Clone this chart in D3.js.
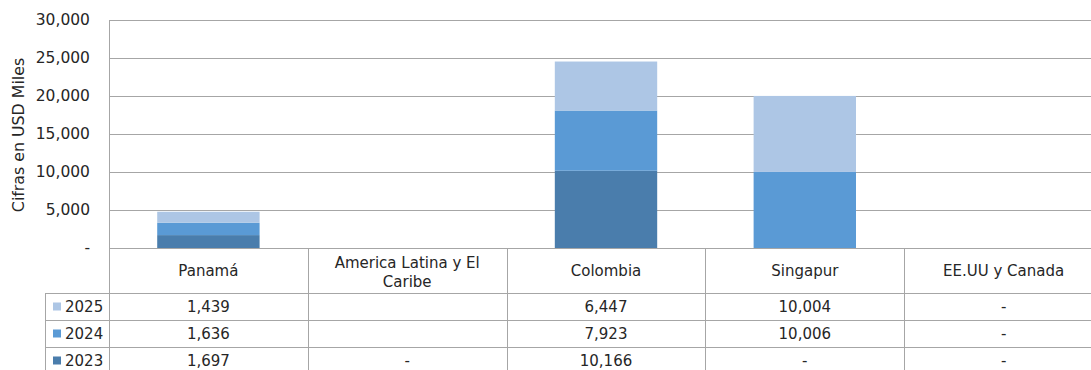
<!DOCTYPE html>
<html>
<head>
<meta charset="utf-8">
<script src="https://cdn.jsdelivr.net/npm/d3@7"></script>
<style>
  body { margin: 0; background: #fff; }
  text { font-family: "DejaVu Sans", sans-serif; fill: #262626; }
</style>
</head>
<body>
<div id="chart"></div>
<script>
// data (null = empty cell, 0 = "-")
var categories = ["Panamá", "America Latina y El Caribe", "Colombia", "Singapur", "EE.UU y Canada"];
var years = ["2023", "2024", "2025"];
var values2023 = [1697, 0, 10166, 0, 0];
var values2024 = [1636, null, 7923, 10006, 0];
var values2025 = [1439, null, 6447, 10004, 0];
var yTicks = [0, 5000, 10000, 15000, 20000, 25000, 30000];
var yearColors = ["#4a7dac", "#5a9ad5", "#adc6e5"];

var width = 1091,
    height = 370;

var plotLeft = 109,
    plotTop = 20,
    plotBottom = 248,
    colWidth = 198.8;

var series = [values2023, values2024, values2025];

var svg = d3.select("#chart").append("svg")
    .attr("width", width)
    .attr("height", height);

var x = d3.scaleBand()
    .domain(categories)
    .range([plotLeft, plotLeft + colWidth * categories.length]);

var y = d3.scaleLinear()
    .domain([0, 30000])
    .range([plotBottom, plotTop]);

var fmt = d3.format(",d");

// gridlines
svg.selectAll(".grid")
    .data(yTicks)
    .enter().append("line")
    .attr("x1", plotLeft)
    .attr("x2", width)
    .attr("y1", function(d) { return Math.round(y(d)) + 0.5; })
    .attr("y2", function(d) { return Math.round(y(d)) + 0.5; })
    .attr("stroke", "#a6a6a6")
    .attr("stroke-width", 1);

// y tick labels
svg.selectAll(".ytick")
    .data(yTicks)
    .enter().append("text")
    .attr("x", 90)
    .attr("y", function(d) { return y(d); })
    .attr("dy", "0.35em")
    .attr("text-anchor", "end")
    .style("font-size", "15.5px")
    .text(function(d) { return d === 0 ? "-" : fmt(d); });

// axis title
svg.append("text")
    .attr("transform", "translate(24," + 135 + ") rotate(-90)")
    .attr("text-anchor", "middle")
    .style("font-size", "15.8px")
    .text("Cifras en USD Miles");

// stacked bars
var barW = x.bandwidth() * 0.515;
var stackData = categories.map(function(c, i) {
    var row = { cat: c };
    years.forEach(function(yr, j) { row[yr] = series[j][i] || 0; });
    return row;
});
var stacked = d3.stack().keys(years)(stackData);

svg.selectAll(".layer")
    .data(stacked)
    .enter().append("g")
    .attr("fill", function(d, i) { return yearColors[i]; })
    .selectAll("rect")
    .data(function(d) { return d; })
    .enter().append("rect")
    .attr("x", function(d) { return x(d.data.cat) + (x.bandwidth() - barW) / 2; })
    .attr("width", barW)
    .attr("y", function(d) { return y(d[1]); })
    .attr("height", function(d) { return y(d[0]) - y(d[1]); });

// data table
var headerBottom = 293,
    rowH = 27,
    legendLeft = 45;
var lineColor = "#a6a6a6";

// vertical lines between categories
var bounds = categories.map(function(c) { return x(c); });
svg.selectAll(".vline")
    .data(bounds)
    .enter().append("line")
    .attr("x1", function(d) { return Math.round(d) + 0.5; })
    .attr("x2", function(d) { return Math.round(d) + 0.5; })
    .attr("y1", function(d, i) { return i === 0 ? plotTop : plotBottom; })
    .attr("y2", height)
    .attr("stroke", lineColor);

// legend column left edge
svg.append("line")
    .attr("x1", legendLeft + 0.5).attr("x2", legendLeft + 0.5)
    .attr("y1", headerBottom).attr("y2", height)
    .attr("stroke", lineColor);

// horizontal table lines
var rowLines = [0, 1, 2].map(function(i) { return headerBottom + i * rowH; });
svg.selectAll(".hline")
    .data(rowLines)
    .enter().append("line")
    .attr("x1", legendLeft)
    .attr("x2", width)
    .attr("y1", function(d) { return d + 0.5; })
    .attr("y2", function(d) { return d + 0.5; })
    .attr("stroke", lineColor);

// header labels
var header = svg.selectAll(".head")
    .data(categories)
    .enter().append("text")
    .attr("x", function(d) { return x(d) + x.bandwidth() / 2; })
    .attr("text-anchor", "middle")
    .style("font-size", "15px");
header.each(function(d) {
    var t = d3.select(this);
    var cx = x(d) + x.bandwidth() / 2;
    if (d === "America Latina y El Caribe") {
        t.append("tspan").attr("x", cx).attr("y", 263).attr("dy", "0.35em").text("America Latina  y El");
        t.append("tspan").attr("x", cx).attr("y", 282).attr("dy", "0.35em").text("Caribe");
    } else {
        t.attr("y", 271).attr("dy", "0.35em").text(d);
    }
});

// rows: 2025 on top, 2023 at bottom
var rowOrder = [2, 1, 0];
rowOrder.forEach(function(si, r) {
    var cy = headerBottom + r * rowH + rowH / 2;
    svg.append("rect")
        .attr("x", 53)
        .attr("y", cy - 4)
        .attr("width", 8)
        .attr("height", 8)
        .attr("fill", yearColors[si]);
    svg.append("text")
        .attr("x", 65)
        .attr("y", cy)
        .attr("dy", "0.35em")
        .style("font-size", "15px")
        .text(years[si]);
    svg.selectAll(".cell" + si)
        .data(series[si])
        .enter().append("text")
        .attr("x", function(d, i) { return x(categories[i]) + x.bandwidth() / 2; })
        .attr("y", cy)
        .attr("dy", "0.35em")
        .attr("text-anchor", "middle")
        .style("font-size", "15px")
        .text(function(d) { return d === null ? "" : (d === 0 ? "-" : fmt(d)); });
});
</script>
</body>
</html>
